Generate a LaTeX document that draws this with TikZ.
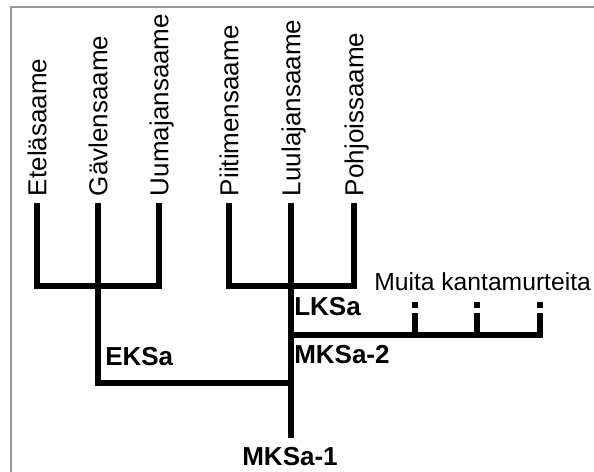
\documentclass[tikz,border=0pt]{standalone}
\usepackage{fontspec}
\setmainfont{Liberation Sans}
\usepackage{tikz}
\usetikzlibrary{calc}
\tikzstyle{frame} = [draw=black!40, line width=1.2pt]
\tikzstyle{branch} = [draw, line width=4pt]
\tikzstyle{other} = [draw, line width=4pt, dash pattern=on 16.5pt off 3.75pt on 4.5pt off 20pt]
\tikzstyle{leaf} = [rotate=90, anchor=west, inner sep=0pt, outer xsep=5.25pt, outer ysep=0pt, text height=13.9pt, text depth=0pt, font=\fontsize{19.5}{21}\selectfont]
\tikzstyle{group} = [anchor=base west, inner sep=0pt, font=\fontsize{19.5}{21}\selectfont\bfseries]

\begin{document}
\begin{tikzpicture}[x=0.75pt, y=-0.75pt]
        \useasboundingbox (0,0) rectangle (594,472);
        \draw[frame] (11,472) -- (11,7) -- (594,7);
        % kielet
        \node[leaf] (etela) at (37,203) {Eteläsaame};
        \node[leaf] (gavle) at (98,203) {Gävlensaame};
        \node[leaf] (uuma) at (159,203) {Uumajansaame};
        \node[leaf] (piite) at (229,203) {Piitimensaame};
        \node[leaf] (luula) at (291,203) {Luulajansaame};
        \node[leaf] (pohjois) at (354,203) {Pohjoissaame};
        % kantamurteet
        \coordinate (eksa) at (98,383);
        \coordinate (lksa) at (291,286);
        \coordinate (mksa2) at (291,335);
        \coordinate (mksa1) at (291,438);
        \node[group] (eksalabel) at (105,365) {EKSa};
        \node[group] (lksalabel) at (294,315) {LKSa};
        \node[group] (mksa2label) at (294,363) {MKSa-2};
        \node[group, anchor=base] (mksa1label) at (290,465) {MKSa-1};
        \node[group, font=\fontsize{18.5}{20}\selectfont] (muita) at (374,290) {Muita kantamurteita};
        \path[branch] (etela.west) |- (uuma.west |- lksa) -- (uuma.west);
        \path[branch] (piite.west) |- (pohjois.west |- lksa) -- (pohjois.west);
        \path[branch] (gavle.west) -- (eksa) -- (eksa -| mksa1);
        \path[branch] (luula.west) -- (mksa1);
        \foreach \x [count=\i] in {415,477,540} {
            \coordinate (stub\i) at (\x,335);
            \coordinate (top\i) at (\x,302);
            \path[other] (stub\i) -- (top\i);
        }
        \path[branch, line cap=rect] (mksa2) -- (stub3);
    \end{tikzpicture}
\end{document}
